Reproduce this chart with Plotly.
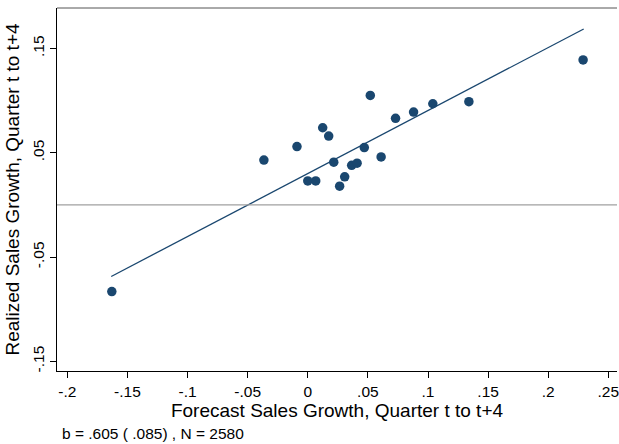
import plotly.graph_objects as go

# Binned scatter data (forecast vs realized sales growth)
forecast = [-0.163, -0.0365, -0.009, 0.000, 0.0066, 0.0124, 0.0174, 0.0216, 0.0265, 0.0307,
            0.0365, 0.041, 0.047, 0.052, 0.061, 0.073, 0.088, 0.104, 0.134, 0.229]
realized = [-0.083, 0.043, 0.056, 0.023, 0.023, 0.074, 0.066, 0.041, 0.018, 0.027,
            0.038, 0.040, 0.055, 0.105, 0.046, 0.083, 0.089, 0.097, 0.099, 0.139]

# Fitted line endpoints
fit_x = [-0.1635, 0.2295]
fit_y = [-0.0686, 0.1687]

x_tick_vals = [-0.2, -0.15, -0.1, -0.05, 0, 0.05, 0.1, 0.15, 0.2, 0.25]
x_tick_text = ["-.2", "-.15", "-.1", "-.05", "0", ".05", ".1", ".15", ".2", ".25"]
y_tick_vals = [-0.15, -0.05, 0.05, 0.15]
y_tick_text = ["-.15", "-.05", ".05", ".15"]

note_text = "b = .605 ( .085) , N = 2580"

navy = "#1a476f"
font_family = "Liberation Sans, Arial, Helvetica, sans-serif"

fig = go.Figure()
fig.add_trace(go.Scatter(x=forecast, y=realized, mode="markers",
                         marker=dict(color=navy, size=9.5, line=dict(width=0)),
                         showlegend=False, hoverinfo="skip"))
fig.add_trace(go.Scatter(x=fit_x, y=fit_y, mode="lines",
                         line=dict(color=navy, width=1.3),
                         showlegend=False, hoverinfo="skip"))

fig.add_hline(y=0, line=dict(color="#a0a0a0", width=1.2))
# top border of plot region
fig.add_shape(type="line", xref="paper", yref="paper", x0=0, x1=1, y0=1, y1=1,
              line=dict(color="#555555", width=1))

fig.update_layout(
    width=619, height=444,
    margin=dict(l=57, r=0, t=8, b=73),
    paper_bgcolor="white", plot_bgcolor="white",
    font=dict(family=font_family, color="black"),
    xaxis=dict(range=[-0.2086, 0.2572], tickvals=x_tick_vals, ticktext=x_tick_text,
               showgrid=False, zeroline=False, showline=True, linecolor="black", linewidth=1.3,
               ticks="outside", ticklen=6, tickcolor="black", tickwidth=1,
               tickfont=dict(size=15.5), ticklabeloverflow="allow",
               title=dict(text="Forecast Sales Growth, Quarter t to t+4",
                          font=dict(size=19), standoff=1)),
    yaxis=dict(range=[-0.1592, 0.1888], tickvals=y_tick_vals, ticktext=y_tick_text,
               tickangle=-90,
               showgrid=False, zeroline=False, showline=True, linecolor="black", linewidth=1.3,
               ticks="outside", ticklen=6, tickcolor="black", tickwidth=1,
               tickfont=dict(size=15.5),
               title=dict(text="Realized Sales Growth, Quarter t to t+4",
                          font=dict(size=19), standoff=5)),
    annotations=[dict(text=note_text, xref="paper", yref="paper", x=0.006, y=0,
                      yshift=-62, xanchor="left", yanchor="middle", showarrow=False,
                      font=dict(size=15.5))],
)

fig.write_html("out.html", config={"displayModeBar": False},
               post_script="document.body.style.margin='0';")
